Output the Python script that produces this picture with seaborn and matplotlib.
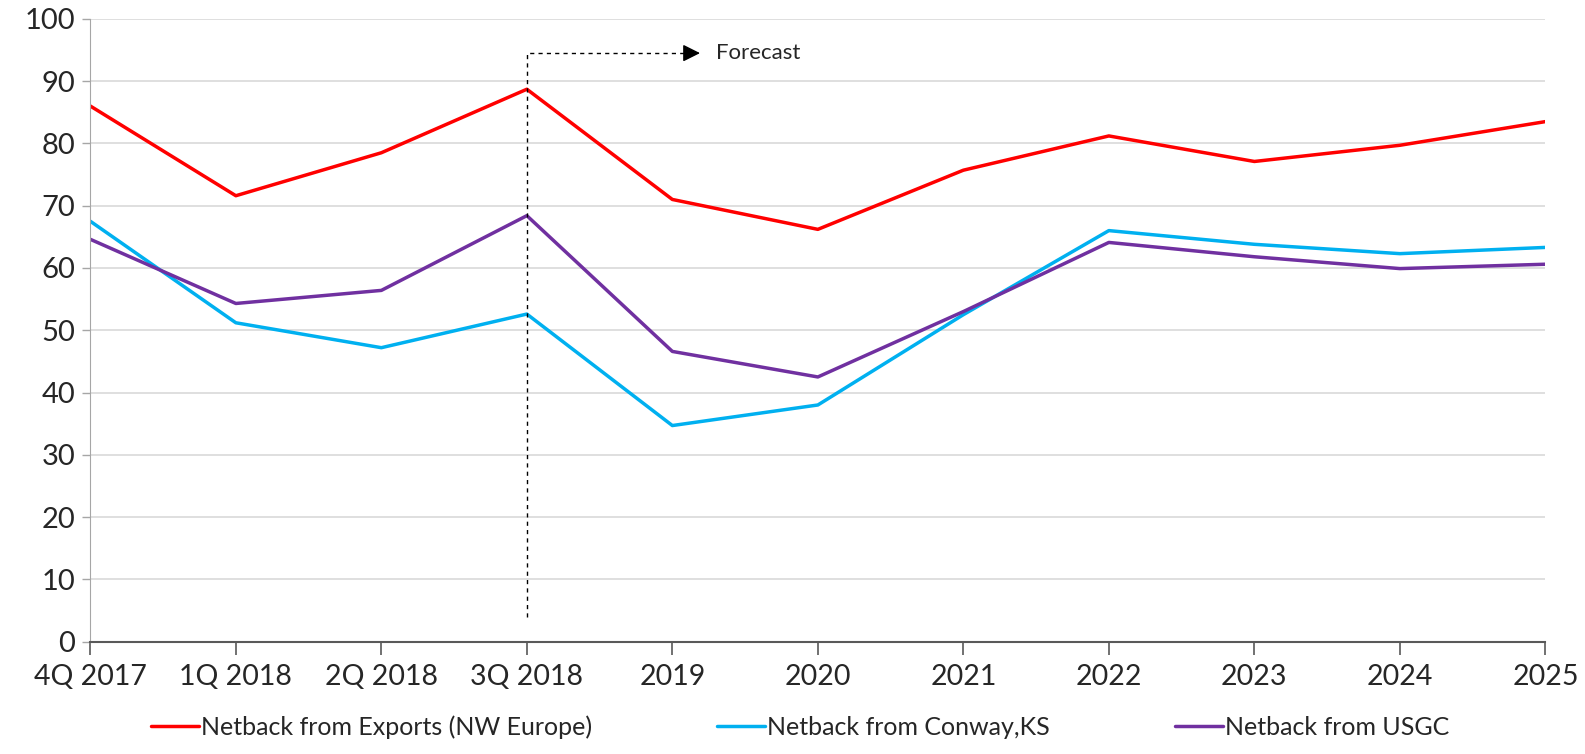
import pandas as pd
import matplotlib.pyplot as plt
import seaborn as sns

# Periods on the x axis
periods = ['4Q 2017', '1Q 2018', '2Q 2018', '3Q 2018', '2019', '2020',
           '2021', '2022', '2023', '2024', '2025']

# Netback series
nw_europe = [86.0, 71.6, 78.5, 88.7, 71.0, 66.2, 75.7, 81.2, 77.1, 79.7, 83.5]
conway = [67.5, 51.2, 47.2, 52.6, 34.7, 38.0, 52.5, 66.0, 63.8, 62.3, 63.3]
usgc = [64.6, 54.3, 56.4, 68.4, 46.6, 42.5, 53.0, 64.1, 61.8, 59.9, 60.6]

series_names = ['Netback from Exports (NW Europe)', 'Netback from Conway,KS',
                'Netback from USGC']
series_colors = ['#FF0000', '#00B0F0', '#7030A0']

forecast_start = '3Q 2018'

# Long-format table for seaborn
df = pd.DataFrame({
    'Period': periods * 3,
    'Value': nw_europe + conway + usgc,
    'Series': [n for n in series_names for _ in periods],
})

sns.set_style('white')
plt.rcParams['font.family'] = ['Lato', 'DejaVu Sans']

fig, ax = plt.subplots(figsize=(15.85, 7.54), dpi=100)
fig.subplots_adjust(left=0.057, right=0.975, top=0.975, bottom=0.149)

sns.lineplot(data=df, x='Period', y='Value', hue='Series', palette=series_colors,
             hue_order=series_names, sort=False, linewidth=2.5, ax=ax, legend=True)

# Axes formatting
ax.set_xlim(0, len(periods) - 1)
ax.set_ylim(0, 100)
ax.set_yticks(range(0, 101, 10))
ax.set_xticks(range(len(periods)))
ax.set_xticklabels(periods)
ax.set_xlabel('')
ax.set_ylabel('')
ax.grid(axis='y', color='#D9D9D9', linewidth=1.2)
ax.set_axisbelow(True)
for side in ['top', 'right']:
    ax.spines[side].set_visible(False)
ax.spines['left'].set_color('#A6A6A6')
ax.spines['bottom'].set_color('#595959')
ax.spines['bottom'].set_linewidth(1.5)
ax.tick_params(axis='x', direction='out', length=9, width=1.2, color='#595959',
               labelsize=20.5, pad=7)
ax.tick_params(axis='y', direction='out', length=6, width=1, color='#A6A6A6',
               labelsize=21, pad=5)
ax.tick_params(axis='x', bottom=True)
ax.tick_params(axis='y', left=True)

# Forecast marker: dashed elbow with a solid arrowhead
fx = periods.index(forecast_start)
ax.plot([fx, fx, fx + 1.12], [4, 94.5, 94.5], linestyle=(0, (3, 3)),
        color='black', linewidth=1)
ax.annotate('', xy=(fx + 1.19, 94.5), xytext=(fx + 1.11, 94.5),
            arrowprops=dict(arrowstyle='-|>,head_length=0.7,head_width=0.35',
                            color='black', lw=1, mutation_scale=15,
                            shrinkA=0, shrinkB=0))
ax.text(fx + 1.3, 94.5, 'Forecast', fontsize=16, va='center', ha='left')

# Legend below the plot
handles, labels = ax.get_legend_handles_labels()
ax.get_legend().remove()
fig.legend(handles, labels, loc='lower center', ncol=3, frameon=False,
           fontsize=18, handlelength=1.9, handletextpad=0.1, columnspacing=5.0,
           bbox_to_anchor=(0.505, -0.01))

plt.savefig('out.png', dpi=100)
